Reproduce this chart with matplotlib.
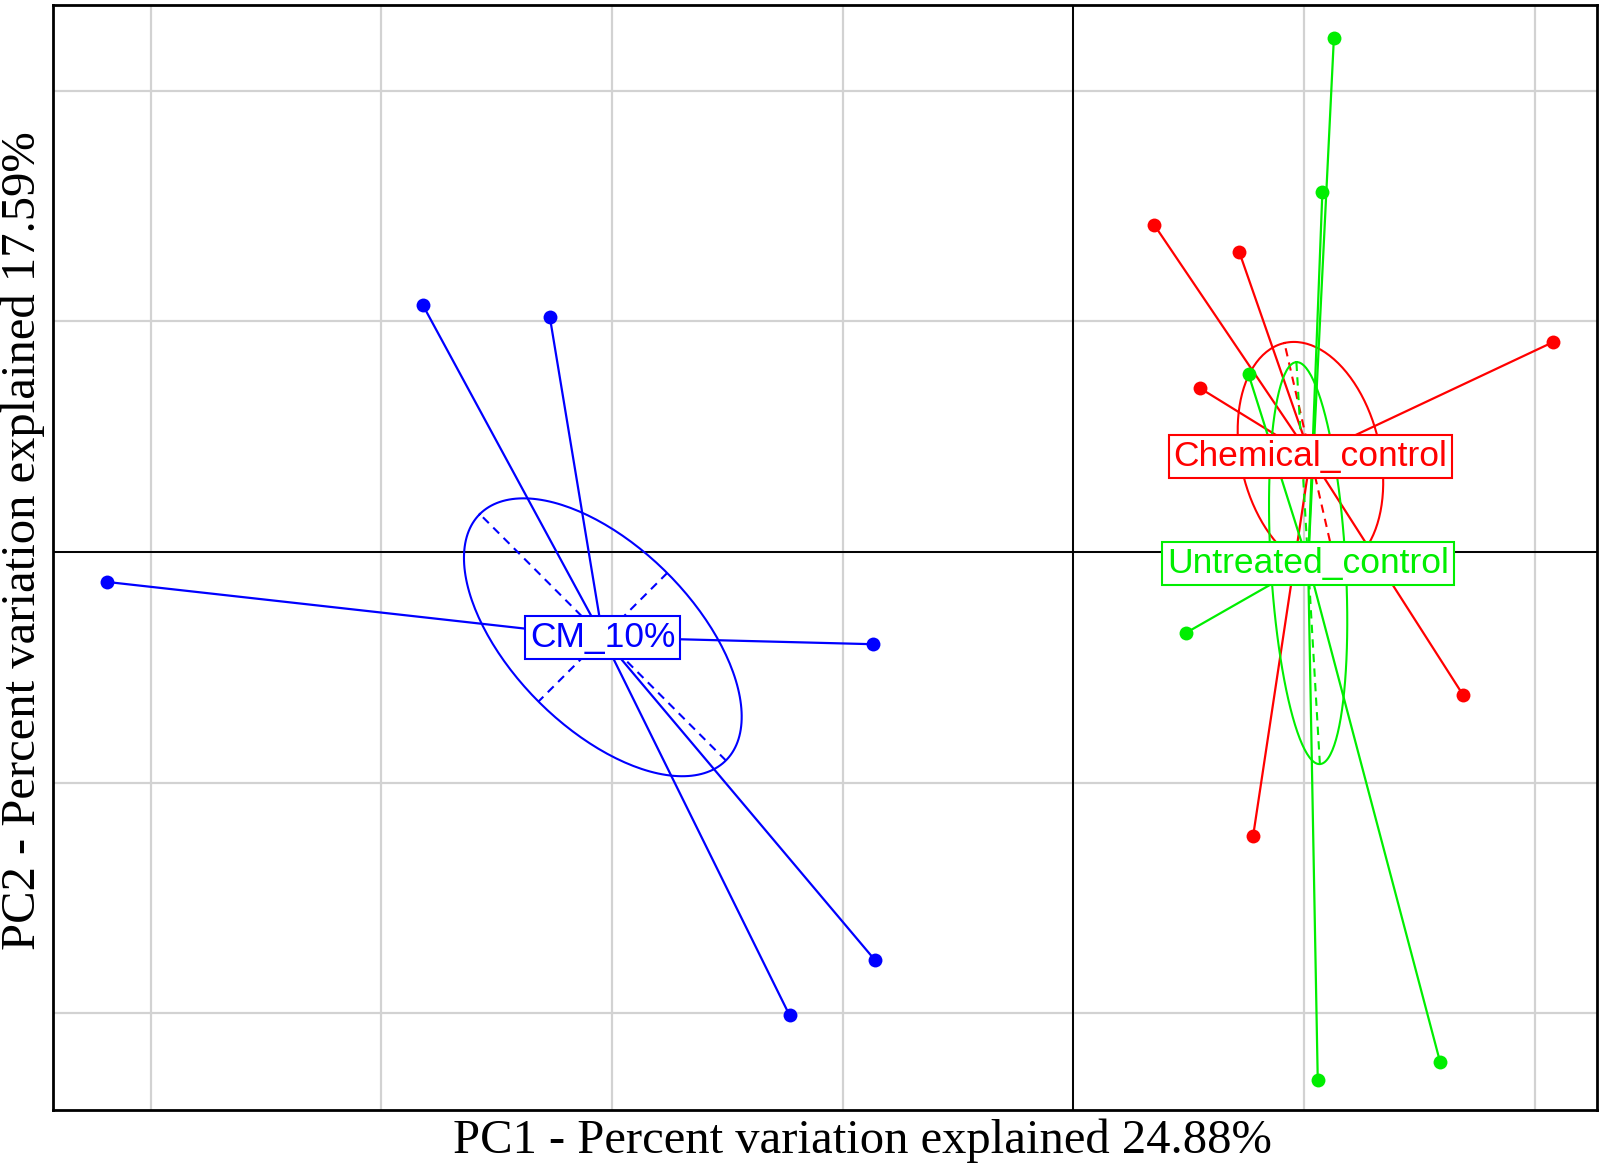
import matplotlib.pyplot as plt
import numpy as np

# PCA scores, one group at a time
groups = ["CM_10%", "Chemical_control", "Untreated_control"]
colors = ["#0000ff", "#ff0000", "#00ee00"]

cm_x = [-4.19, -2.82, -2.27, -0.87, -0.86, -1.23]
cm_y = [-0.13, 1.07, 1.02, -0.40, -1.77, -2.01]

chem_x = [0.35, 0.72, 0.55, 2.08, 1.69, 0.78]
chem_y = [1.42, 1.30, 0.71, 0.91, -0.62, -1.23]

untr_x = [1.13, 1.08, 0.76, 0.49, 1.06, 1.59]
untr_y = [2.23, 1.56, 0.77, -0.35, -2.29, -2.21]

xs = [cm_x, chem_x, untr_x]
ys = [cm_y, chem_y, untr_y]

ell_scale = 0.5  # size of the ellipse in standard deviations

plt.rcParams["font.family"] = ["Liberation Sans", "DejaVu Sans"]

fig = plt.figure(figsize=(16, 11.7), dpi=100)
ax = fig.add_axes([0.033, 0.0513, 0.965, 0.9444])
ax.set_xlim(-4.425, 2.27)
ax.set_ylim(-2.42, 2.372)

ax.set_xticks(np.arange(-4, 3))
ax.set_yticks(np.arange(-2, 3))
ax.tick_params(length=0, labelbottom=False, labelleft=False)
ax.grid(True, color="#d2d2d2", linewidth=1.6)
ax.axhline(0, color="black", linewidth=1.4, zorder=2)
ax.axvline(0, color="black", linewidth=1.4, zorder=2)
for sp in ax.spines.values():
    sp.set_linewidth(2)

t = np.linspace(0, 2 * np.pi, 200)
for name, x, y, col in zip(groups, xs, ys, colors):
    x = np.array(x)
    y = np.array(y)
    cx, cy = x.mean(), y.mean()
    cov = np.cov(x, y, bias=True)
    vals, vecs = np.linalg.eigh(cov)
    a = ell_scale * np.sqrt(vals[1])
    b = ell_scale * np.sqrt(vals[0])
    v1 = vecs[:, 1]
    v2 = vecs[:, 0]
    ex = cx + a * np.cos(t) * v1[0] + b * np.sin(t) * v2[0]
    ey = cy + a * np.cos(t) * v1[1] + b * np.sin(t) * v2[1]
    ax.plot(ex, ey, color=col, linewidth=1.5, zorder=3)
    ax.plot([cx - a * v1[0], cx + a * v1[0]], [cy - a * v1[1], cy + a * v1[1]],
            color=col, linewidth=1.5, linestyle=(0, (4, 3)), zorder=3)
    ax.plot([cx - b * v2[0], cx + b * v2[0]], [cy - b * v2[1], cy + b * v2[1]],
            color=col, linewidth=1.5, linestyle=(0, (4, 3)), zorder=3)
    for px, py in zip(x, y):
        ax.plot([cx, px], [cy, py], color=col, linewidth=1.6, zorder=3)
    ax.scatter(x, y, s=100, color=col, zorder=4, linewidths=0)

for name, x, y, col in zip(groups, xs, ys, colors):
    ax.text(np.mean(x), np.mean(y), name, color=col, fontsize=25.5,
            ha="center", va="center", zorder=6,
            bbox=dict(boxstyle="square,pad=0.14", facecolor="white",
                      edgecolor=col, linewidth=1.5))

fig.text(0.539, 0.025, "PC1 - Percent variation explained 24.88%",
         family=["Liberation Serif", "DejaVu Serif"], fontsize=35,
         ha="center", va="center")
fig.text(0.014, 0.538, "PC2 - Percent variation explained 17.59%",
         family=["Liberation Serif", "DejaVu Serif"], fontsize=35,
         ha="center", va="center", rotation=90)

plt.savefig("out.png", dpi=100)
